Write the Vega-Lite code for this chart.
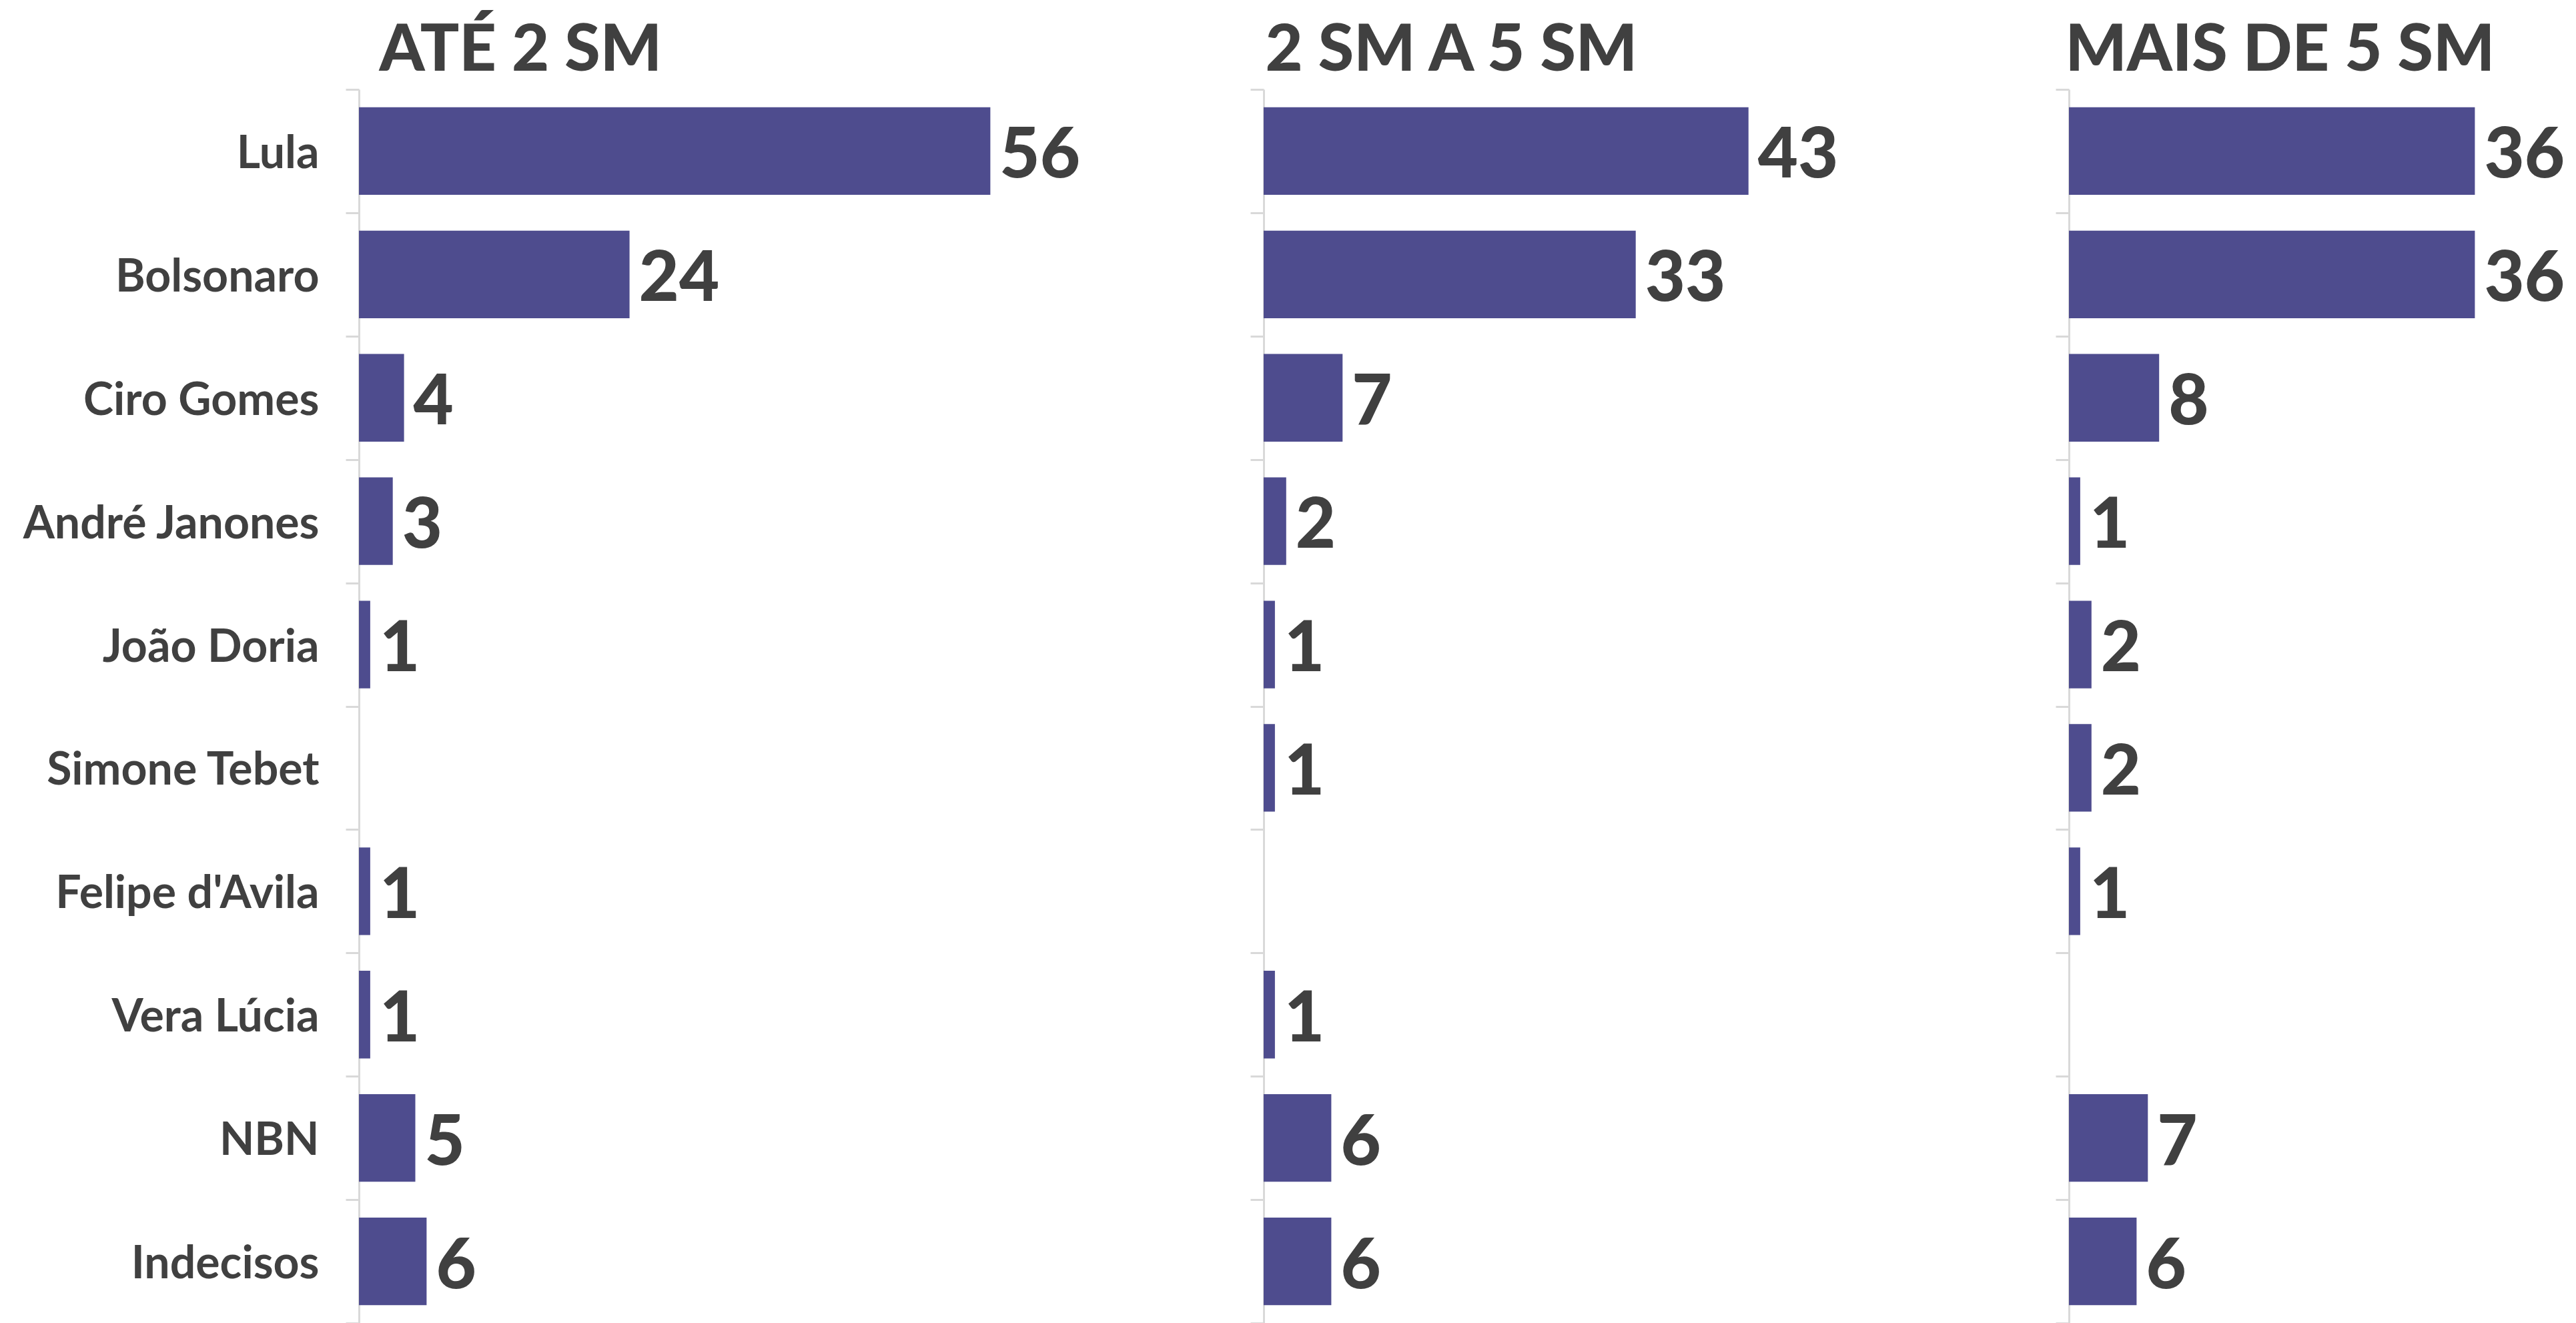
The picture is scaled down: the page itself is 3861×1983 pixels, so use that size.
{
  "$schema": "https://vega.github.io/schema/vega-lite/v6.json",
  "background": "white",
  "padding": {"left": 32, "top": 27, "right": 0, "bottom": 0},
  "bounds": "flush",
  "spacing": 0,
  "config": {
    "view": {"stroke": null},
    "font": "Lato",
    "axisY": {
      "title": null,
      "domainColor": "#d9d9d9",
      "domainWidth": 3,
      "tickColor": "#d9d9d9",
      "tickWidth": 3,
      "tickSize": 20,
      "tickBand": "extent",
      "labelFont": "Lato",
      "labelFontSize": 68,
      "labelFontWeight": "bold",
      "labelColor": "#404040",
      "labelPadding": 40,
      "labelBaseline": "alphabetic",
      "labelOffset": 25,
      "labelLimit": 1000
    },
    "axisX": {
      "orient": "top",
      "labels": false,
      "ticks": false,
      "domain": false,
      "grid": false,
      "titleAnchor": "start",
      "titleAlign": "left",
      "titleBaseline": "alphabetic",
      "titleY": -29,
      "titleFont": "Lato",
      "titleFontSize": 97,
      "titleFontWeight": 900,
      "titleColor": "#404040"
    }
  },
  "datasets": {
    "d": [
      {"faixa": "ATÉ 2 SM", "candidato": "Lula", "valor": 56},
      {"faixa": "ATÉ 2 SM", "candidato": "Bolsonaro", "valor": 24},
      {"faixa": "ATÉ 2 SM", "candidato": "Ciro Gomes", "valor": 4},
      {"faixa": "ATÉ 2 SM", "candidato": "André Janones", "valor": 3},
      {"faixa": "ATÉ 2 SM", "candidato": "João Doria", "valor": 1},
      {"faixa": "ATÉ 2 SM", "candidato": "Felipe d'Avila", "valor": 1},
      {"faixa": "ATÉ 2 SM", "candidato": "Vera Lúcia", "valor": 1},
      {"faixa": "ATÉ 2 SM", "candidato": "NBN", "valor": 5},
      {"faixa": "ATÉ 2 SM", "candidato": "Indecisos", "valor": 6},
      {"faixa": "2 SM A 5 SM", "candidato": "Lula", "valor": 43},
      {"faixa": "2 SM A 5 SM", "candidato": "Bolsonaro", "valor": 33},
      {"faixa": "2 SM A 5 SM", "candidato": "Ciro Gomes", "valor": 7},
      {"faixa": "2 SM A 5 SM", "candidato": "André Janones", "valor": 2},
      {"faixa": "2 SM A 5 SM", "candidato": "João Doria", "valor": 1},
      {"faixa": "2 SM A 5 SM", "candidato": "Simone Tebet", "valor": 1},
      {"faixa": "2 SM A 5 SM", "candidato": "Vera Lúcia", "valor": 1},
      {"faixa": "2 SM A 5 SM", "candidato": "NBN", "valor": 6},
      {"faixa": "2 SM A 5 SM", "candidato": "Indecisos", "valor": 6},
      {"faixa": "MAIS DE 5 SM", "candidato": "Lula", "valor": 36},
      {"faixa": "MAIS DE 5 SM", "candidato": "Bolsonaro", "valor": 36},
      {"faixa": "MAIS DE 5 SM", "candidato": "Ciro Gomes", "valor": 8},
      {"faixa": "MAIS DE 5 SM", "candidato": "André Janones", "valor": 1},
      {"faixa": "MAIS DE 5 SM", "candidato": "João Doria", "valor": 2},
      {"faixa": "MAIS DE 5 SM", "candidato": "Simone Tebet", "valor": 2},
      {"faixa": "MAIS DE 5 SM", "candidato": "Felipe d'Avila", "valor": 1},
      {"faixa": "MAIS DE 5 SM", "candidato": "NBN", "valor": 7},
      {"faixa": "MAIS DE 5 SM", "candidato": "Indecisos", "valor": 6}
    ]
  },
  "hconcat": [
    {
      "width": 1356,
      "height": 1849,
      "data": {"name": "d"},
      "transform": [{"filter": "datum.faixa === 'ATÉ 2 SM'"}],
      "encoding": {
        "y": {
          "field": "candidato", "type": "nominal", "sort": null,
          "scale": {"domain": ["Lula", "Bolsonaro", "Ciro Gomes", "André Janones", "João Doria", "Simone Tebet", "Felipe d'Avila", "Vera Lúcia", "NBN", "Indecisos"], "paddingInner": 0, "paddingOuter": 0},
          "axis": {}
        },
        "x": {"field": "valor", "type": "quantitative", "scale": {"domain": [0, 80.24], "nice": false}, "axis": {"title": "ATÉ 2 SM", "titleX": 30}}
      },
      "layer": [
        {"mark": {"type": "bar", "height": {"band": 0.71}, "color": "#4e4c8e"}},
        {"mark": {"type": "text", "align": "left", "dx": 14, "baseline": "alphabetic", "dy": 40, "fontSize": 104, "fontWeight": 900, "font": "Lato", "color": "#404040"}, "encoding": {"text": {"field": "valor", "type": "quantitative"}}}
      ]
    },
    {
      "width": 1207,
      "height": 1849,
      "data": {"name": "d"},
      "transform": [{"filter": "datum.faixa === '2 SM A 5 SM'"}],
      "encoding": {
        "y": {
          "field": "candidato", "type": "nominal", "sort": null,
          "scale": {"domain": ["Lula", "Bolsonaro", "Ciro Gomes", "André Janones", "João Doria", "Simone Tebet", "Felipe d'Avila", "Vera Lúcia", "NBN", "Indecisos"], "paddingInner": 0, "paddingOuter": 0},
          "axis": {"labels": false}
        },
        "x": {"field": "valor", "type": "quantitative", "scale": {"domain": [0, 71.42], "nice": false}, "axis": {"title": "2 SM A 5 SM", "titleX": 2}}
      },
      "layer": [
        {"mark": {"type": "bar", "height": {"band": 0.71}, "color": "#4e4c8e"}},
        {"mark": {"type": "text", "align": "left", "dx": 14, "baseline": "alphabetic", "dy": 40, "fontSize": 104, "fontWeight": 900, "font": "Lato", "color": "#404040"}, "encoding": {"text": {"field": "valor", "type": "quantitative"}}}
      ]
    },
    {
      "width": 760,
      "height": 1849,
      "data": {"name": "d"},
      "transform": [{"filter": "datum.faixa === 'MAIS DE 5 SM'"}],
      "encoding": {
        "y": {
          "field": "candidato", "type": "nominal", "sort": null,
          "scale": {"domain": ["Lula", "Bolsonaro", "Ciro Gomes", "André Janones", "João Doria", "Simone Tebet", "Felipe d'Avila", "Vera Lúcia", "NBN", "Indecisos"], "paddingInner": 0, "paddingOuter": 0},
          "axis": {"labels": false}
        },
        "x": {"field": "valor", "type": "quantitative", "scale": {"domain": [0, 44.97], "nice": false}, "axis": {"title": "MAIS DE 5 SM", "titleX": -6}}
      },
      "layer": [
        {"mark": {"type": "bar", "height": {"band": 0.71}, "color": "#4e4c8e"}},
        {"mark": {"type": "text", "align": "left", "dx": 14, "baseline": "alphabetic", "dy": 40, "fontSize": 104, "fontWeight": 900, "font": "Lato", "color": "#404040"}, "encoding": {"text": {"field": "valor", "type": "quantitative"}}}
      ]
    }
  ]
}
